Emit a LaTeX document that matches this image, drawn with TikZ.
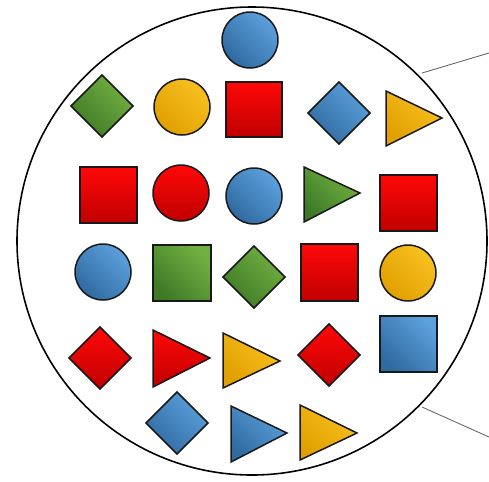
\documentclass[tikz,border=0pt]{standalone}
\usetikzlibrary{shadings}
\definecolor{bluelt}{HTML}{5CA0DC}
\definecolor{bluedk}{HTML}{2F6AA0}
\definecolor{redlt}{HTML}{FF0808}
\definecolor{reddk}{HTML}{C00000}
\definecolor{greenlt}{HTML}{72B043}
\definecolor{greendk}{HTML}{3E7A26}
\definecolor{yellt}{HTML}{F8C020}
\definecolor{yeldk}{HTML}{E0A000}
\tikzset{
  shp/.style={draw=black!90, line width=0.85pt, line join=miter},
  blueshape/.style={shp, bottom color=bluedk, top color=bluelt, shading angle=-45},
  redshape/.style={shp, bottom color=reddk, top color=redlt},
  greenshape/.style={shp, bottom color=greendk, top color=greenlt, shading angle=-45},
  yelshape/.style={shp, bottom color=yeldk, top color=yellt, shading angle=-45},
  ring/.style={draw=black, line width=0.9pt},
  lead/.style={draw=black!60, line width=0.5pt}
}
\newcommand{\mydia}[3]{\path[#3] (#1-31,#2) -- (#1,#2-31) -- (#1+31,#2) -- (#1,#2+31) -- cycle;}
\newcommand{\mysq}[5]{\path[#5] (#1,#2) rectangle (#3,#4);}
\newcommand{\mytri}[6]{\path[#6] (#1,#2) -- (#4,#5) -- (#1,#3) -- cycle;}
\newcommand{\mycirc}[3]{\path[#3] (#1,#2) circle (28);}
\begin{document}
\begin{tikzpicture}[x=0.02cm,y=-0.02cm]
\useasboundingbox (0,0) rectangle (489,481);
% leader lines
\coordinate (l1a) at (422,73);
\coordinate (l1b) at (489,53);
\coordinate (l2a) at (422,407);
\coordinate (l2b) at (489,437);
\draw[lead] (l1a) -- (l1b);
\draw[lead] (l2a) -- (l2b);
% big circle
\path[ring, fill=white] (252,241) ellipse (235 and 234);
% row 0
\mycirc{250}{40}{blueshape}
% row 1
\mydia{102}{106}{greenshape}
\mycirc{182}{107}{yelshape}
\mysq{226}{82}{282}{137}{redshape}
\mydia{339}{113}{blueshape}
\mytri{386}{91}{146}{442}{118}{yelshape}
% row 2
\mysq{80}{167}{137}{223}{redshape}
\mycirc{181}{193}{redshape}
\mycirc{254}{196}{blueshape}
\mytri{304}{167}{222}{360}{193}{greenshape}
\mysq{380}{175}{437}{231}{redshape}
% row 3
\mycirc{103}{272}{blueshape}
\mysq{153}{245}{211}{301}{greenshape}
\mydia{254}{277}{greenshape}
\mysq{301}{244}{358}{301}{redshape}
\mycirc{408}{273}{yelshape}
% row 4
\mydia{100}{358}{redshape}
\mytri{153}{330}{387}{210}{358}{redshape}
\mytri{223}{333}{388}{280}{361}{yelshape}
\mydia{329}{355}{redshape}
\mysq{380}{316}{437}{372}{blueshape}
% row 5
\mydia{177}{423}{blueshape}
\mytri{231}{406}{462}{287}{433}{blueshape}
\mytri{300}{405}{460}{357}{433}{yelshape}
\end{tikzpicture}
\end{document}
